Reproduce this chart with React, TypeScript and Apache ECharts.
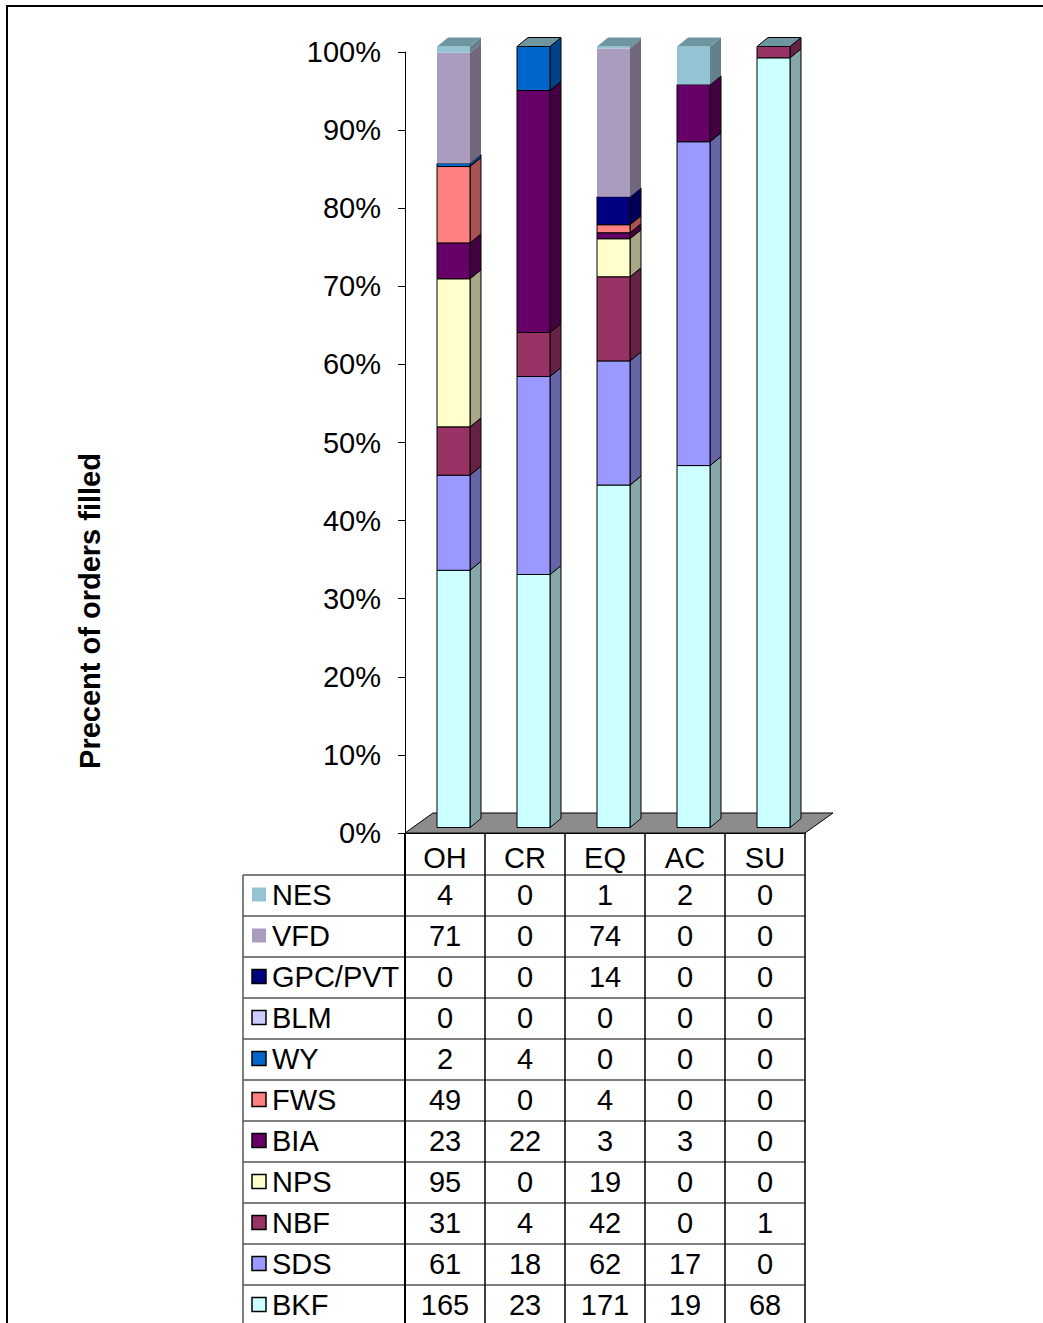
import React, { useEffect, useRef } from "react";
import * as echarts from "echarts";

// ---- data ----
const categories = ["OH", "CR", "EQ", "AC", "SU"];
// stacking order, bottom to top
const seriesNames = ["BKF", "SDS", "NBF", "NPS", "BIA", "FWS", "WY", "BLM", "GPC/PVT", "VFD", "NES"];
const BKF = [165, 23, 171, 19, 68];
const SDS = [61, 18, 62, 17, 0];
const NBF = [31, 4, 42, 0, 1];
const NPS = [95, 0, 19, 0, 0];
const BIA = [23, 22, 3, 3, 0];
const FWS = [49, 0, 4, 0, 0];
const WY = [2, 4, 0, 0, 0];
const BLM = [0, 0, 0, 0, 0];
const GPC_PVT = [0, 0, 14, 0, 0];
const VFD = [71, 0, 74, 0, 0];
const NES = [4, 0, 1, 2, 0];
const seriesValues = [BKF, SDS, NBF, NPS, BIA, FWS, WY, BLM, GPC_PVT, VFD, NES];

// ---- styles ----
const colors = ["#CCFFFF", "#9999FF", "#993366", "#FFFFCC", "#660066", "#FF8080", "#0066CC", "#CCCCFF", "#000080", "#AA9CBE", "#94C4D4"];
const bordered = [true, true, true, true, true, true, true, true, true, false, false];
const TOP_FACE = "#6E96A0";
const FONT = "'Liberation Sans', Arial, sans-serif";
const FS = 29;

const GRID_LEFT = 405;
const GRID_TOP = 52;
const GRID_W = 400;
const GRID_H = 781;
const HEADER_H = 42;
const ROW_H = 41;
const ROW_HEAD_LEFT = 243;

function shade(hex: string, f: number) {
  const n = parseInt(hex.slice(1), 16);
  const r = Math.round(((n >> 16) & 255) * f);
  const g = Math.round(((n >> 8) & 255) * f);
  const b = Math.round((n & 255) * f);
  return `rgb(${r},${g},${b})`;
}

export default function App() {
  const ref = useRef<HTMLDivElement>(null);
  useEffect(() => {
    if (!ref.current) return;
    const chart = echarts.init(ref.current, undefined, { renderer: "svg" });

    const totals = categories.map((_, c) => seriesValues.reduce((s, arr) => s + arr[c], 0));
    const cum = categories.map(() => 0);
    const stacked = seriesValues.map((arr) =>
      arr.map((v, c) => {
        const start = cum[c] / totals[c];
        cum[c] += v;
        const end = cum[c] / totals[c];
        return [c, start, end, v];
      })
    );
    const topBorder = categories.map((_, c) => {
      for (let s = seriesValues.length - 1; s >= 0; s--) {
        if (seriesValues[s][c] > 0) return bordered[s];
      }
      return false;
    });

    const SHIFT_X = -8;
    const SHIFT_Y = -5.5;
    const BAR_W = 33;
    const DX = 11;
    const DY = 9;

    const makeRender = (sIdx: number) => (params: any, api: any) => {
      const cat = api.value(0);
      const start = api.value(1);
      const end = api.value(2);
      const v = api.value(3);
      const pb = api.coord([cat, start]);
      const pt = api.coord([cat, end]);
      const L = pb[0] + SHIFT_X;
      const R = L + BAR_W;
      const yb = pb[1] + SHIFT_Y;
      const yt = pt[1] + SHIFT_Y;
      const stroke = bordered[sIdx] ? "#000" : "none";
      const children: any[] = [];
      if (v > 0) {
        children.push({
          type: "polygon",
          shape: { points: [[R, yb], [R + DX, yb - DY], [R + DX, yt - DY], [R, yt]] },
          style: { fill: shade(colors[sIdx], 0.66), stroke, lineWidth: 1 },
        });
        children.push({
          type: "rect",
          shape: { x: L, y: yt, width: BAR_W, height: yb - yt },
          style: { fill: colors[sIdx], stroke, lineWidth: 1 },
        });
      }
      if (sIdx === seriesValues.length - 1) {
        const tb = topBorder[cat] ? "#000" : "none";
        children.push({
          type: "polygon",
          shape: { points: [[L, yt], [R, yt], [R + DX, yt - DY], [L + DX, yt - DY]] },
          style: { fill: TOP_FACE, stroke: tb, lineWidth: 1 },
        });
      }
      return { type: "group", children };
    };

    const floorSeries = {
      type: "custom",
      name: "floor",
      clip: false,
      silent: true,
      data: [[0, 0]],
      renderItem: (params: any, api: any) => {
        const cs = params.coordSys;
        const yb = cs.y + cs.height;
        return {
          type: "polygon",
          shape: {
            points: [
              [cs.x, yb],
              [cs.x + cs.width, yb],
              [cs.x + cs.width + 28, yb - 20],
              [cs.x + 28, yb - 20],
            ],
          },
          style: { fill: "#8C8C8C", stroke: "#000", lineWidth: 1 },
        };
      },
    };

    const barSeries = seriesNames.map((name, s) => ({
      type: "custom",
      name,
      clip: false,
      encode: { x: 0, y: [1, 2] },
      data: stacked[s],
      renderItem: makeRender(s),
    }));

    // ---- data table + frame (graphic) ----
    const graphic: any[] = [];
    graphic.push({
      type: "rect",
      z: -10,
      shape: { x: 7, y: 6, width: 1100, height: 1400 },
      style: { fill: "none", stroke: "#000", lineWidth: 2 },
    });
    graphic.push({
      type: "text",
      x: 90,
      y: 611,
      rotation: Math.PI / 2,
      style: {
        text: "Precent of orders filled",
        fontSize: FS,
        fontWeight: "bold",
        fontFamily: FONT,
        fill: "#000",
        align: "center",
        verticalAlign: "middle",
      },
    });
    const tableTop = GRID_TOP + GRID_H;
    const bodyTop = tableTop + HEADER_H;
    const colW = GRID_W / categories.length;
    const rows = seriesNames.map((_, i) => seriesNames.length - 1 - i);
    const tableBottom = bodyTop + rows.length * ROW_H;
    for (let r = 0; r <= rows.length; r++) {
      const y = bodyTop + r * ROW_H;
      graphic.push({
        type: "line",
        shape: { x1: ROW_HEAD_LEFT, y1: y, x2: GRID_LEFT + GRID_W, y2: y },
        style: { stroke: "#555", lineWidth: 1.5 },
      });
    }
    graphic.push({
      type: "line",
      shape: { x1: ROW_HEAD_LEFT, y1: bodyTop, x2: ROW_HEAD_LEFT, y2: tableBottom },
      style: { stroke: "#555", lineWidth: 1.5 },
    });
    for (let c = 0; c <= categories.length; c++) {
      const x = GRID_LEFT + c * colW;
      graphic.push({
        type: "line",
        shape: { x1: x, y1: tableTop, x2: x, y2: tableBottom },
        style: { stroke: "#000", lineWidth: c === 0 ? 2 : 1.5 },
      });
    }
    rows.forEach((s, r) => {
      const cy = bodyTop + r * ROW_H + ROW_H / 2;
      graphic.push({
        type: "rect",
        shape: { x: 252, y: cy - 8, width: 14, height: 14 },
        style: { fill: colors[s], stroke: bordered[s] ? "#000" : "none", lineWidth: 1.5 },
      });
      graphic.push({
        type: "text",
        x: 272,
        y: cy - 1,
        style: {
          text: seriesNames[s],
          fontSize: FS,
          fontFamily: FONT,
          fill: "#000",
          align: "left",
          verticalAlign: "middle",
        },
      });
      seriesValues[s].forEach((v, c) => {
        graphic.push({
          type: "text",
          x: GRID_LEFT + c * colW + colW / 2,
          y: cy - 1,
          style: {
            text: String(v),
            fontSize: FS,
            fontFamily: FONT,
            fill: "#000",
            align: "center",
            verticalAlign: "middle",
          },
        });
      });
    });

    chart.setOption({
      animation: false,
      backgroundColor: "#fff",
      grid: { left: GRID_LEFT, top: GRID_TOP, width: GRID_W, height: GRID_H, containLabel: false },
      xAxis: {
        type: "category",
        data: categories,
        boundaryGap: true,
        axisLine: { show: true, lineStyle: { color: "#000", width: 1 } },
        axisTick: { show: false },
        axisLabel: { fontSize: FS, fontFamily: FONT, color: "#000", margin: 10 },
        splitLine: { show: false },
      },
      yAxis: {
        type: "value",
        min: 0,
        max: 1,
        interval: 0.1,
        axisLine: { show: true, lineStyle: { color: "#000", width: 1 } },
        axisTick: { show: true, length: 7, lineStyle: { color: "#000" } },
        axisLabel: {
          fontSize: FS,
          fontFamily: FONT,
          color: "#000",
          margin: 24,
          formatter: (v: number) => Math.round(v * 100) + "%",
        },
        splitLine: { show: false },
      },
      series: [floorSeries, ...barSeries],
      graphic,
    });
    return () => chart.dispose();
  }, []);
  return (
    <div
      ref={ref}
      style={{ position: "absolute", left: 0, top: 0, width: 1043, height: 1323, background: "#fff" }}
    />
  );
}
